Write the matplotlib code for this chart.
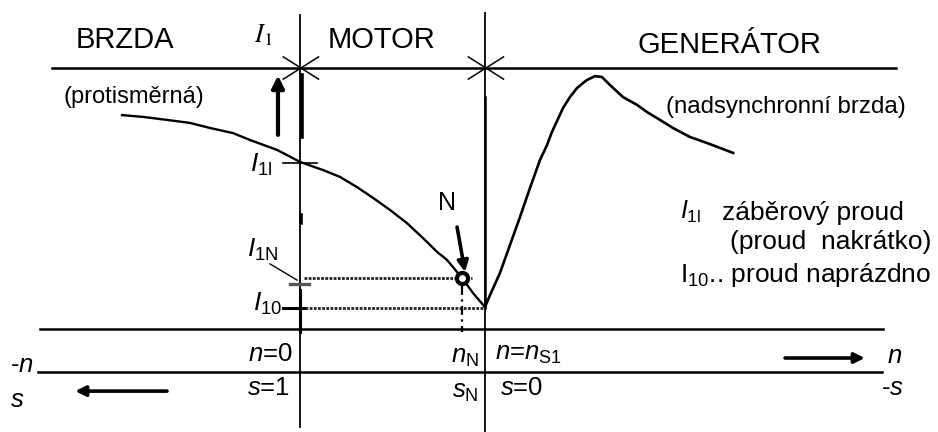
import matplotlib
matplotlib.use('Agg')
import matplotlib.pyplot as plt

plt.rcParams['font.family'] = ['Liberation Sans', 'DejaVu Sans']
plt.rcParams['mathtext.fontset'] = 'custom'
plt.rcParams['mathtext.rm'] = 'Liberation Sans'
plt.rcParams['mathtext.it'] = 'Liberation Sans:italic'
plt.rcParams['mathtext.bf'] = 'Liberation Sans:bold'

# ---- data: speed n (relative to synchronous speed n_S1) vs stator current I1 (arbitrary units)
n_brake_motor = [-0.962, -0.849, -0.719, -0.595, -0.486, -0.362, -0.270, -0.124, 0.0, 0.124, 0.216,
                 0.308, 0.395, 0.486, 0.578, 0.665, 0.741, 0.795, 0.876, 0.935, 1.0]
I_brake_motor = [7.13, 7.07, 6.97, 6.87, 6.70, 6.53, 6.30, 5.97, 5.57, 5.30, 5.07,
                 4.73, 4.37, 3.97, 3.53, 3.03, 2.57, 2.30, 1.70, 1.20, 0.73]

n_generator = [1.0, 1.027, 1.081, 1.135, 1.189, 1.243, 1.297, 1.335, 1.362, 1.422, 1.459, 1.497, 1.530,
               1.551, 1.595, 1.632, 1.676, 1.746, 1.822, 1.876, 1.946, 2.016, 2.108, 2.200, 2.341]
I_generator = [0.73, 1.13, 1.87, 2.80, 3.73, 4.70, 5.63, 6.13, 6.57, 7.37, 7.73, 8.03, 8.20,
               8.30, 8.43, 8.40, 8.13, 7.73, 7.47, 7.23, 6.97, 6.70, 6.40, 6.20, 5.87]

n_zero = 0.0          # n = 0, s = 1
n_sync = 1.0          # n = n_S1, s = 0
n_nominal = 0.876     # n_N
I_10 = 0.70           # no-load current
I_1N = 1.70           # nominal current
I_1l = 5.53           # locked-rotor current
I_top = 8.70          # level of the region boundary line

region_labels = ['BRZDA', 'MOTOR', 'GENERÁTOR']
region_label_n = [-0.946, 0.438, 2.322]
region_label_I = [9.63, 9.63, 9.47]

fig = plt.figure(figsize=(9.38, 4.32), dpi=100)
ax = fig.add_axes([0, 0, 1, 1])
ax.set_xlim(-1.6216, 3.4486)
ax.set_ylim(-3.4333, 10.9667)
ax.axis('off')

k = 'black'
# region boundary line and crosses
ax.plot([-1.341, 3.222], [I_top, I_top], color=k, lw=1.8)
for nc in (n_zero, n_sync):
    ax.plot([nc - 0.09, nc + 0.10], [I_top + 0.37, I_top - 0.37], color=k, lw=1.1)
    ax.plot([nc - 0.09, nc + 0.10], [I_top - 0.37, I_top + 0.37], color=k, lw=1.1)

# vertical axes
ax.plot([n_zero, n_zero], [10.47, -3.27], color=k, lw=1.3)
ax.plot([n_zero + 0.011, n_zero + 0.011], [8.47, 6.40], color=k, lw=2.6)
ax.plot([n_zero, n_zero], [-0.1, 1.3], color=k, lw=2.2)
ax.plot([n_zero + 0.005, n_zero + 0.005], [3.8, 3.55], color=k, lw=2.6)
ax.plot([n_sync, n_sync], [10.53, -3.43], color=k, lw=1.3)
ax.plot([n_sync, n_sync], [7.73, 0.7], color=k, lw=1.8)

# speed / slip axis lines
ax.plot([-1.405, 3.151], [0.0, 0.0], color=k, lw=1.8)
ax.plot([-1.416, 3.146], [-1.433, -1.433], color=k, lw=1.8)

# current characteristic
ax.plot(n_brake_motor, I_brake_motor, color=k, lw=1.7, solid_joinstyle='round')
ax.plot(n_generator, I_generator, color=k, lw=1.9, solid_joinstyle='round')

# current level marks
ax.plot([-0.092, 0.092], [I_1l, I_1l], color=k, lw=1.2)
ax.plot([-0.054, 0.049], [I_1N - 0.2, I_1N - 0.2], color='#555555', lw=2.4)
ax.plot([-0.162, -0.016], [2.17, 1.63], color=k, lw=1.0)
ax.plot([0.022, 0.93], [I_1N, I_1N], color='#222222', lw=2.0, ls=(0, (1, 0.5)))
ax.plot([-0.092, 0.027], [I_10, I_10], color=k, lw=2.2)
ax.plot([0.027, n_sync], [I_10, I_10], color='#222222', lw=2.0, ls=(0, (1, 0.5)))
ax.plot([n_nominal, n_nominal], [I_1N - 0.25, -0.1], color=k, lw=1.6, ls=(0, (4, 2, 1, 2)))
ax.plot([n_nominal], [I_1N], marker='o', ms=8, mfc='white', mec=k, mew=3.0)

# arrows
arr = dict(arrowstyle='-|>', color=k, lw=3, mutation_scale=18, shrinkA=0, shrinkB=0)
ax.annotate('', xy=(-0.119, 8.45), xytext=(-0.119, 6.47), arrowprops=arr)
ax.annotate('', xy=(0.892, 1.9), xytext=(0.849, 3.4),
            arrowprops=dict(arrowstyle='-|>', color=k, lw=2.6, mutation_scale=16, shrinkA=0, shrinkB=0))
ax.annotate('', xy=(-1.215, -2.07), xytext=(-0.719, -2.07),
            arrowprops=dict(arrowstyle='-|>', color=k, lw=2.6, mutation_scale=15, shrinkA=0, shrinkB=0))
ax.annotate('', xy=(3.053, -0.967), xytext=(2.622, -0.967),
            arrowprops=dict(arrowstyle='-|>', color=k, lw=2.6, mutation_scale=15, shrinkA=0, shrinkB=0))

# texts
for lab, xn, yi in zip(region_labels, region_label_n, region_label_I):
    ax.text(xn, yi, lab, fontsize=21, ha='center', va='center')
ax.text(-0.9, 7.73, '(protisměrná)', fontsize=17, ha='center', va='center')
ax.text(2.627, 7.40, '(nadsynchronní brzda)', fontsize=17.3, ha='center', va='center')
ax.text(-0.2, 9.8, r'$I_{1}$', fontsize=19, ha='center', va='center', math_fontfamily='stix')
ax.text(-0.151, 5.47, r'$I_{1\mathrm{l}}$', fontsize=19, ha='right', va='center')
ax.text(-0.115, 2.63, r'$I_{1\mathrm{N}}$', fontsize=19, ha='right', va='center')
ax.text(-0.097, 0.83, r'$I_{10}$', fontsize=19, ha='right', va='center')
ax.text(0.795, 4.2, 'N', fontsize=18, ha='center', va='center')
ax.text(-0.038, -0.83, r'$n$=0', fontsize=18.5, ha='right', va='center')
ax.text(-0.053, -1.967, r'$s$=1', fontsize=18.5, ha='right', va='center')
ax.text(-1.503, -1.2, r'-$n$', fontsize=18.5, ha='center', va='center')
ax.text(-1.53, -2.37, r'$s$', fontsize=18.5, ha='center', va='center')
ax.text(0.892, -0.93, r'$n_{\mathrm{N}}$', fontsize=18.5, ha='center', va='center')
ax.text(0.892, -2.10, r'$s_{\mathrm{N}}$', fontsize=18.5, ha='center', va='center')
ax.text(1.054, -0.83, r'$n$=$n_{\mathrm{S1}}$', fontsize=18.5, ha='left', va='center')
ax.text(1.081, -1.967, r'$s$=0', fontsize=18.5, ha='left', va='center')
ax.text(3.216, -0.9, r'$n$', fontsize=18.5, ha='center', va='center')
ax.text(3.205, -1.967, r'-$s$', fontsize=18.5, ha='center', va='center')
ax.text(2.054, 3.9, r'$I_{1\mathrm{l}}$', fontsize=18, ha='left', va='center')
ax.text(2.281, 3.87, 'záběrový proud', fontsize=19, ha='left', va='center')
ax.text(2.324, 2.90, '(proud  nakrátko)', fontsize=19, ha='left', va='center')
ax.text(2.054, 1.80, r'I$_{10}$.. proud naprázdno', fontsize=19, ha='left', va='center')

fig.savefig('out.png', dpi=100, facecolor='white')
